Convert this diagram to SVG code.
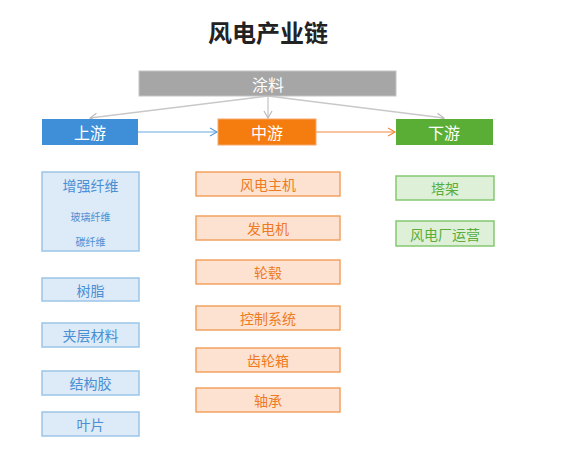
<svg xmlns="http://www.w3.org/2000/svg" width="575" height="459" viewBox="0 0 575 459">
<defs>
<style>
text{font-family:"Noto Sans CJK SC","Noto Sans",sans-serif;text-anchor:middle;dominant-baseline:central}
.title{font-size:24px;font-weight:bold;fill:#222}
.hdr{font-size:16px;fill:#fff}
.b rect{fill:#ddeaf7;stroke:#9cc5e8;stroke-width:1.5}
.b text{fill:#4a8fd4;font-size:14px}
.b text.s{font-size:10px}
.o rect{fill:#fde2d2;stroke:#f2a262;stroke-width:1.5}
.o text{fill:#ee7a22;font-size:14px}
.g rect{fill:#def0d7;stroke:#85c872;stroke-width:1.5}
.g text{fill:#5aad3a;font-size:14px}
</style>
<marker id="ag" markerWidth="10" markerHeight="10" refX="8" refY="5" orient="auto" markerUnits="userSpaceOnUse"><path d="M1,1 L8,5 L1,9" fill="none" stroke="#bbbbbb" stroke-width="1.2"/></marker>
<marker id="ab" markerWidth="10" markerHeight="10" refX="8" refY="5" orient="auto" markerUnits="userSpaceOnUse"><path d="M1,1 L8,5 L1,9" fill="none" stroke="#5b9fd9" stroke-width="1.2"/></marker>
<marker id="ao" markerWidth="10" markerHeight="10" refX="8" refY="5" orient="auto" markerUnits="userSpaceOnUse"><path d="M1,1 L8,5 L1,9" fill="none" stroke="#f08a3c" stroke-width="1.2"/></marker>
</defs>
<rect width="575" height="459" fill="#fff"/>
<text class="title" x="268" y="31">风电产业链</text>

<g id="connectors" fill="none">
<path d="M268,96 L90,118" stroke="#c8c8c8" stroke-width="1.3" marker-end="url(#ag)"/>
<path d="M268,96 L268,118" stroke="#c8c8c8" stroke-width="1.3" marker-end="url(#ag)"/>
<path d="M268,96 L444,118" stroke="#c8c8c8" stroke-width="1.3" marker-end="url(#ag)"/>
<path d="M138,132 L217,132" stroke="#6aa8de" stroke-width="1.2" marker-end="url(#ab)"/>
<path d="M316,132 L395,132" stroke="#f08a3c" stroke-width="1.2" marker-end="url(#ao)"/>
</g>

<g id="coating"><rect x="139" y="71" width="257" height="25" fill="#a6a6a6" stroke="#c4c4c4"/><text class="hdr" x="268" y="83.5">涂料</text></g>
<g id="upstream"><rect x="42" y="119" width="96" height="26" fill="#3e8fd8"/><text class="hdr" x="90" y="132">上游</text></g>
<g id="midstream"><rect x="218" y="119" width="98" height="26" fill="#f57c0e" stroke="#f5a96a"/><text class="hdr" x="267" y="132">中游</text></g>
<g id="downstream"><rect x="396" y="119" width="97" height="26" fill="#5aae35"/><text class="hdr" x="444" y="132">下游</text></g>

<g id="fiber" class="b"><rect x="42" y="172" width="97" height="79"/><text x="90.5" y="185">增强纤维</text><text class="s" x="90.5" y="216">玻璃纤维</text><text class="s" x="90.5" y="241">碳纤维</text></g>
<g id="resin" class="b"><rect x="42" y="278" width="97" height="23"/><text x="90.5" y="289.5">树脂</text></g>
<g id="core" class="b"><rect x="42" y="323" width="97" height="24"/><text x="90.5" y="335">夹层材料</text></g>
<g id="adhesive" class="b"><rect x="42" y="371" width="97" height="24"/><text x="90.5" y="383">结构胶</text></g>
<g id="blade" class="b"><rect x="42" y="412" width="97" height="24"/><text x="90.5" y="424">叶片</text></g>

<g id="turbine" class="o"><rect x="196" y="172" width="144" height="24"/><text x="268" y="184">风电主机</text></g>
<g id="generator" class="o"><rect x="196" y="216" width="144" height="24"/><text x="268" y="228">发电机</text></g>
<g id="hub" class="o"><rect x="196" y="260" width="144" height="24"/><text x="268" y="272">轮毂</text></g>
<g id="control" class="o"><rect x="196" y="306" width="144" height="24"/><text x="268" y="318">控制系统</text></g>
<g id="gearbox" class="o"><rect x="196" y="348" width="144" height="24"/><text x="268" y="360">齿轮箱</text></g>
<g id="bearing" class="o"><rect x="196" y="388" width="144" height="24"/><text x="268" y="400">轴承</text></g>

<g id="tower" class="g"><rect x="396" y="176" width="98" height="24"/><text x="445" y="188">塔架</text></g>
<g id="operation" class="g"><rect x="396" y="221" width="98" height="25"/><text x="445" y="233.5">风电厂运营</text></g>
</svg>
